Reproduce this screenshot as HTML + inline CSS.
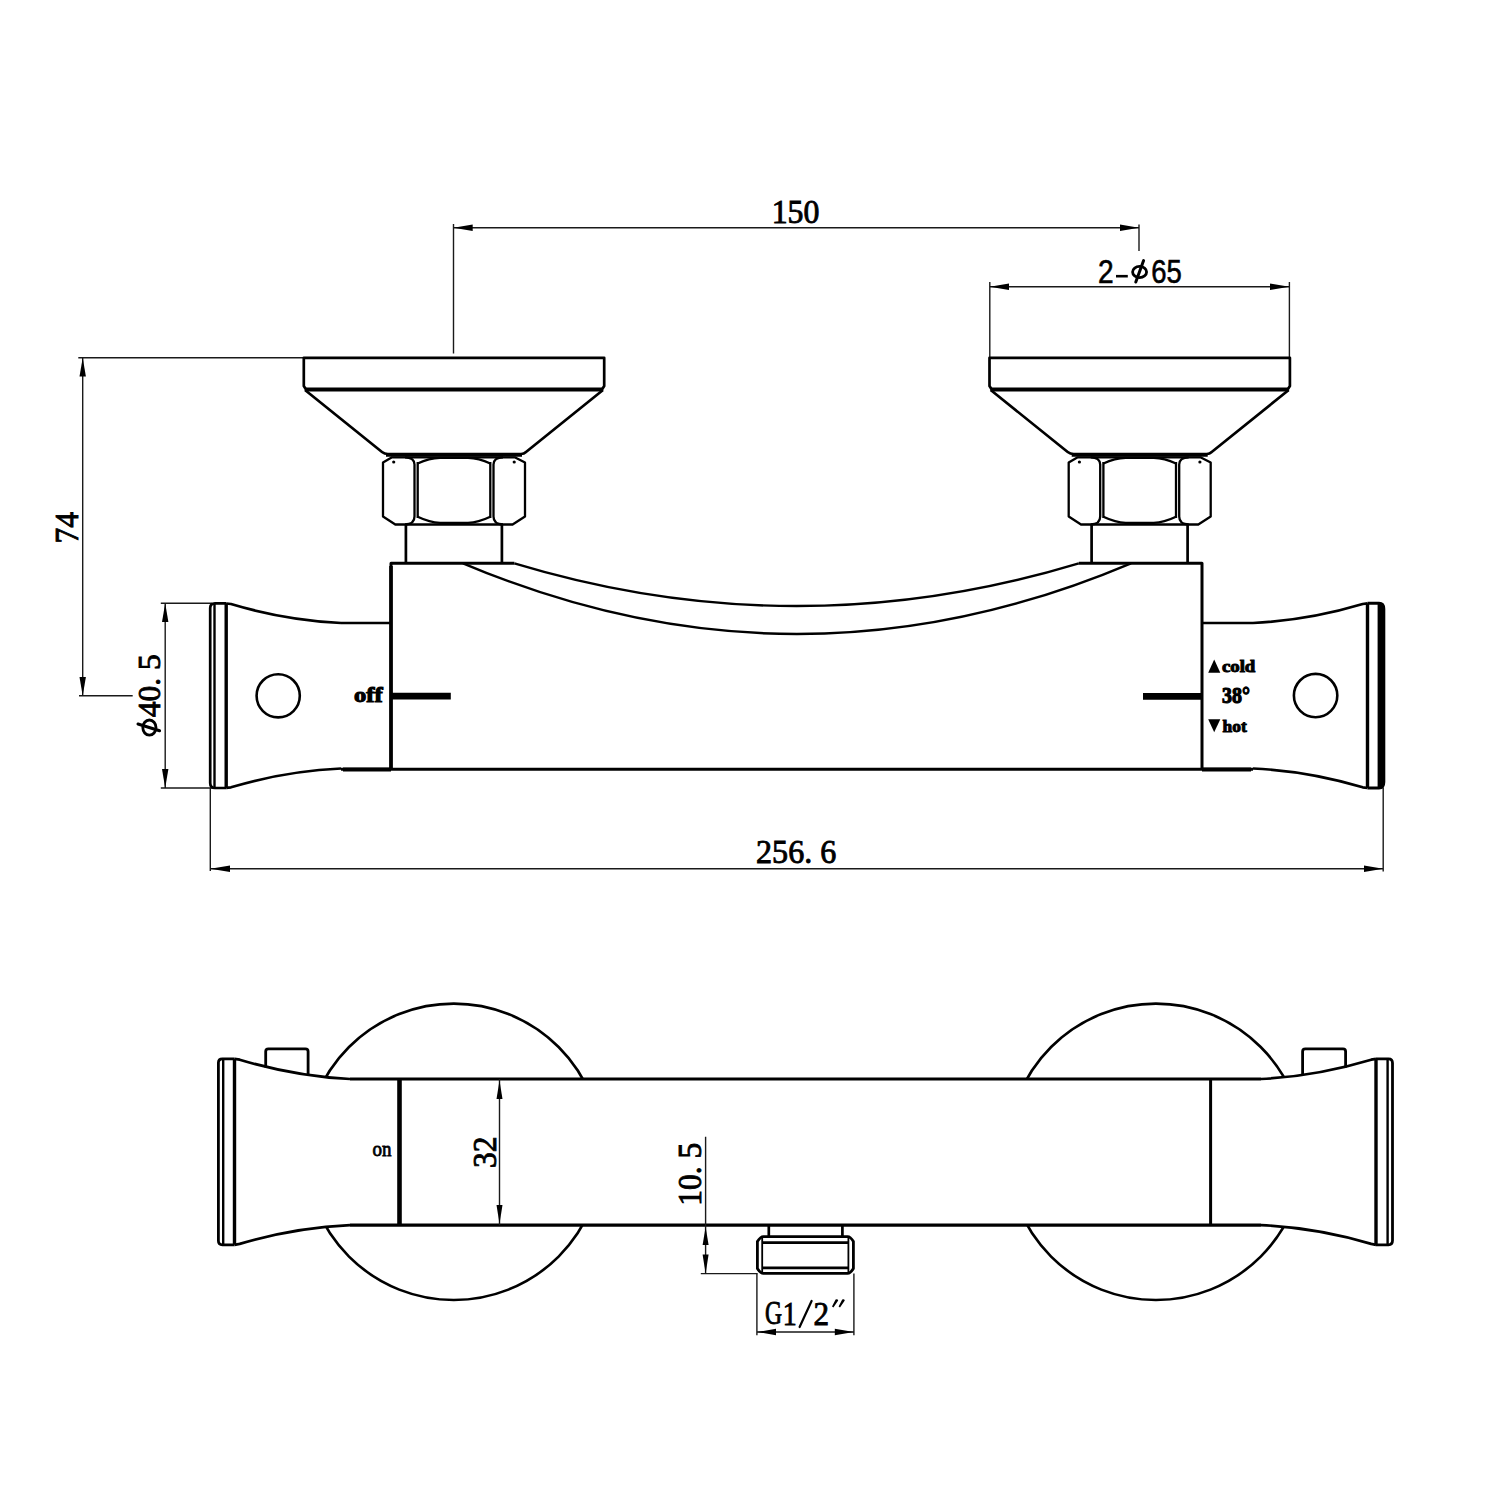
<!DOCTYPE html>
<html><head><meta charset="utf-8">
<style>
html,body{margin:0;padding:0;background:#fff;width:1500px;height:1500px;overflow:hidden}
svg{display:block}
.d{fill:none;stroke:#1a1a1a;stroke-width:1.4}
.o{fill:none;stroke:#000;stroke-width:2.7;stroke-linejoin:round}
.t{fill:none;stroke:#000;stroke-width:3.4}
.a{fill:#000;stroke:none}
.ser{font-family:"Liberation Serif",serif;fill:#000}
.san{font-family:"Liberation Sans",sans-serif;fill:#000}
</style></head>
<body>
<svg width="1500" height="1500" viewBox="0 0 1500 1500">
<rect width="1500" height="1500" fill="#fff"/>

<!-- ===== TOP VIEW ===== -->
<!-- dim 150 -->
<path class="d" d="M453.5,224 V353.5 M453.5,227.7 H1139 M1139,224.5 V251"/>
<polygon class="a" points="453.5,227.7 472.7,224.5 472.7,231"/>
<polygon class="a" points="1139,227.7 1120,224.5 1120,231"/>

<!-- dim 2-phi65 -->
<path class="d" d="M989.8,282 V357 M1289.4,282 V357 M989.8,286.8 H1289.4"/>
<polygon class="a" points="989.8,286.8 1009,283.6 1009,290"/>
<polygon class="a" points="1289.4,286.8 1270,283.6 1270,290"/>

<!-- dim 74 -->
<path class="d" d="M78.3,357.7 H303 M82.7,357.7 V695.8 M79,695.8 H132.7"/>
<polygon class="a" points="82.7,357.7 79.5,376.5 85.9,376.5"/>
<polygon class="a" points="82.7,695.8 79.5,677 85.9,677"/>

<!-- dim phi40.5 -->
<path class="d" d="M160.8,603.3 H212 M160.8,788 H212 M165.2,603.3 V788"/>
<polygon class="a" points="165.2,603.3 162,622 168.4,622"/>
<polygon class="a" points="165.2,788 162,769 168.4,769"/>

<!-- dim 256.6 -->
<path class="d" d="M210.3,788 V871 M1383.2,788 V871.6 M210.3,868.7 H1383.2"/>
<polygon class="a" points="210.3,868.7 230,865.5 230,871.9"/>
<polygon class="a" points="1383.2,868.7 1364,865.5 1364,871.9"/>

<!-- flange + nut group (left) -->
<g id="fl">
<path class="o" d="M306,389.4 L303.8,386 V357.8 H604.2 V386 L602,389.4"/>
<path class="t" style="stroke-width:4" d="M305,389.4 H603"/>
<path class="o" d="M305,390 L382,452 Q384.5,454 388,454 H521 Q524,454 526,452 L603,390"/>
<path class="t" d="M386,455 H522"/>
<path class="o" style="stroke-width:2.3" d="M392,457.3 L383,462.6 V516.5 L395.3,524.5 H512.6 L525,516.5 V462.6 L514.7,457.3 Z"/>
<path class="o" style="stroke-width:2.3" d="M405,457.3 Q414.5,457.5 414.5,464.5 V516.5 Q414.5,524.3 405,524.5 M417.7,462 V518 M490.3,462 V518 M503,457.3 Q493.5,457.5 493.5,464.5 V516.5 Q493.5,524.3 503,524.5"/>
<path class="o" style="stroke-width:2.3" d="M417.7,463.5 C424,460.5 431,458 440,457.8 H468 C477,458 484,460.5 490.3,463.5 M417.7,516.8 C424,519.8 431,522.6 440,522.8 H468 C477,522.6 484,519.8 490.3,516.8"/>
<circle class="a" cx="393.7" cy="462" r="1.6"/>
<circle class="a" cx="514.2" cy="462" r="1.6"/>
<path class="o" d="M405.9,524.5 V563.3 M501.9,524.5 V563.3"/>
</g>
<use href="#fl" transform="translate(685.7,0)"/>

<!-- body -->
<path class="o" style="stroke-width:3" d="M391,769 V563.3 H514.4 M1078.8,563.3 H1202 V769"/><path class="o" style="stroke-width:3.6" d="M391,566 V769"/>
<path class="o" style="stroke-width:3" d="M341,769.2 H1253"/><path class="o" style="stroke-width:4" d="M343,769.4 H391 M1202,769.4 H1251"/>
<path class="o" d="M341,623 H391 M1202,623 H1253"/>
<path class="o" style="stroke-width:2.4" d="M514.4,563.3 Q796.6,648.7 1078.8,563.3 M463,563.3 Q797,704.7 1131,563.3"/>

<!-- left end cap -->
<path class="o" d="M215,603.3 H226.2 M210.2,608 Q210.2,603.3 215,603.3 M210.2,608 V783 Q210.2,788 215,788 H226.2"/>
<path class="o" style="stroke-width:2.4" d="M214.5,603.3 V788"/>
<path class="t" d="M226.2,603.3 V788"/>
<path class="o" d="M226.2,603.5 L231,604 C268,615.1 304,621.15 341,623 M226.2,787.8 L231,787.3 C268,776.2 304,770.15 341,768.5"/>

<!-- right end cap -->
<path class="o" d="M1253,623 C1290,621.15 1325.7,615.1 1362.7,604 L1367.5,603.3 M1253,768.5 C1290,770.15 1325.7,776.2 1362.7,787.3 L1367.5,788"/>
<path class="t" d="M1367.5,603.3 V788"/>
<path class="a" d="M1367.5,601.8 H1379 Q1385.3,601.8 1385.3,609 V782 Q1385.3,789.5 1379,789.5 H1367.5 V786.5 H1377.6 V604.8 H1367.5 Z"/>

<!-- holes -->
<circle class="o" style="stroke-width:2.6" cx="278.2" cy="695.8" r="21.6"/>
<circle class="o" style="stroke-width:2.6" cx="1315.6" cy="695.6" r="21.7"/>

<!-- marks -->
<path class="o" style="stroke-width:6.8;stroke-linecap:butt" d="M390,696.2 H450.8 M1143,696.4 H1202"/>

<!-- ===== BOTTOM VIEW ===== -->
<circle class="o" style="stroke-width:2.6" cx="453.8" cy="1151.8" r="148.2"/>
<circle class="o" style="stroke-width:2.6" cx="1155.9" cy="1151.8" r="148.2"/>
<!-- body white fill -->
<path fill="#fff" stroke="none" d="M234.5,1058.8 L239.7,1059.7 C276.7,1070.8 313,1077.2 350,1079 H1261 C1297.9,1077.2 1334.2,1070.8 1371.2,1059.7 L1376,1058.8 V1244.8 L1371.2,1243.9 C1334.2,1232.8 1297.9,1226.8 1261,1225.1 H350 C313,1226.8 276.7,1232.8 239.7,1243.9 L234.5,1244.8 Z"/>
<!-- small tabs -->
<path class="o" style="stroke-width:2.8" d="M265.7,1067.5 V1051.5 Q265.7,1048.8 268.4,1048.8 H305.4 Q308.1,1048.8 308.1,1051.5 V1075"/>
<path class="o" style="stroke-width:2.8" d="M1302.6,1075 V1051.5 Q1302.6,1048.8 1305.3,1048.8 H1343 Q1345.6,1048.8 1345.6,1051.5 V1067.5"/>
<!-- flares -->
<path class="o" d="M234.5,1058.8 L239.7,1059.7 C276.7,1070.8 313,1077.2 350,1079 M234.5,1244.8 L239.7,1243.9 C276.7,1232.8 313,1226.8 350,1225.1"/>
<path class="o" d="M1376,1058.8 L1371.2,1059.7 C1334.2,1070.8 1297.9,1077.2 1261,1079 M1376,1244.8 L1371.2,1243.9 C1334.2,1232.8 1297.9,1226.8 1261,1225.1"/>
<!-- body lines -->
<path class="o" style="stroke-width:2.8" d="M350,1079 H1261"/>
<path class="o" style="stroke-width:3.2" d="M350,1225.1 H1261"/>
<path class="t" style="stroke-width:4.6" d="M399.5,1079 V1225.2"/>
<path class="o" style="stroke-width:3" d="M1210.6,1079 V1225.2"/>
<!-- caps -->
<path class="o" style="stroke-width:2.8" d="M222.4,1058.8 H234.5 M218.4,1062.8 Q218.4,1058.8 222.4,1058.8 M218.4,1062.8 V1240.8 Q218.4,1244.8 222.4,1244.8 H234.5"/>
<path class="o" style="stroke-width:2.4" d="M223.2,1058.8 V1244.8"/>
<path class="t" d="M234.5,1058.8 V1244.8"/>
<path class="o" style="stroke-width:2.8" d="M1376,1058.8 H1388.5 Q1392.5,1058.8 1392.5,1063 V1240.6 Q1392.5,1244.8 1388.5,1244.8 H1376"/>
<path class="o" style="stroke-width:2.4" d="M1387.6,1058.8 V1244.8"/>
<path class="t" d="M1376,1058.8 V1244.8"/>

<!-- dim 32 -->
<path class="d" d="M499.5,1079 V1225.2"/>
<polygon class="a" points="499.5,1080.5 496.5,1099 502.5,1099"/>
<polygon class="a" points="499.5,1223.7 496.5,1205 502.5,1205"/>

<!-- dim 10.5 -->
<path class="d" d="M705.6,1136.8 V1273.6 M700.8,1273.6 H757.6"/>
<polygon class="a" points="705.6,1227 702.6,1245 708.6,1245"/>
<polygon class="a" points="705.6,1273.6 702.6,1254.4 708.6,1254.4"/>

<!-- outlet -->
<path class="o" d="M768.8,1225.2 V1236.8 M842.4,1225.2 V1236.8"/>
<path class="o" style="stroke-width:2.8" d="M763.4,1236.6 H847.6 Q850.5,1236.6 853.4,1241.5 V1268.5 Q850.5,1273.4 847.6,1273.4 H763.4 Q760.4,1273.4 757.4,1268.5 V1241.5 Q760.4,1236.6 763.4,1236.6 Z"/>
<path class="o" style="stroke-width:2.7" d="M762.2,1242.6 H848.4 M762.2,1267.8 H848.4"/><path class="o" style="stroke-width:1.8" d="M762.2,1238 V1272.5 M848.4,1238 V1272.5"/>

<!-- dim G1/2 -->
<path class="d" d="M756.9,1273.6 V1335.2 M853.9,1273.6 V1335.2 M756.9,1332 H853.9"/>
<polygon class="a" points="756.9,1332 776,1328.8 776,1335.2"/>
<polygon class="a" points="853.9,1332 834.8,1328.8 834.8,1335.2"/>

<text font-family="Liberation Serif" font-weight="normal" font-size="34" stroke="#000" stroke-width="0.9" fill="#000" transform="translate(771.66,222.87) scale(0.936,0.977)">150</text>
<text font-family="Liberation Sans" font-weight="normal" font-size="32" stroke="#000" stroke-width="0.6" fill="#000" transform="translate(1097.90,282.75) scale(0.879,1.019)">2</text>
<text font-family="Liberation Sans" font-weight="normal" font-size="32" stroke="#000" stroke-width="0.6" fill="#000" transform="translate(1151.32,282.69) scale(0.860,1.011)">65</text>
<text font-family="Liberation Serif" font-weight="normal" font-size="34" stroke="#000" stroke-width="0.9" fill="#000" transform="translate(77.91,543.42) rotate(-90) scale(0.925,0.988)">74</text>
<text font-family="Liberation Serif" font-weight="normal" font-size="34" stroke="#000" stroke-width="0.9" fill="#000" transform="translate(159.87,717.23) rotate(-90) scale(0.927,0.951)">40. 5</text>
<text font-family="Liberation Serif" font-weight="normal" font-size="34" stroke="#000" stroke-width="0.9" fill="#000" transform="translate(756.06,863.45) scale(0.944,0.976)">256. 6</text>
<text font-family="Liberation Serif" font-weight="bold" font-size="21" stroke="#000" stroke-width="1.1" fill="#000" transform="translate(354.11,701.69) scale(1.168,0.950)">off</text>
<text font-family="Liberation Serif" font-weight="bold" font-size="19" stroke="#000" stroke-width="1.1" fill="#000" transform="translate(1221.88,672.11) scale(0.991,0.917)">cold</text>
<text font-family="Liberation Serif" font-weight="bold" font-size="21" stroke="#000" stroke-width="1.1" fill="#000" transform="translate(1221.96,702.99) scale(0.950,1.075)">38°</text>
<text font-family="Liberation Serif" font-weight="bold" font-size="19" stroke="#000" stroke-width="1.1" fill="#000" transform="translate(1222.61,731.64) scale(0.915,0.883)">hot</text>
<text font-family="Liberation Serif" font-weight="normal" font-size="18" stroke="#000" stroke-width="0.7" fill="#000" transform="translate(372.40,1156.23) scale(1.054,1.141)">on</text>
<text font-family="Liberation Serif" font-weight="normal" font-size="34" stroke="#000" stroke-width="0.9" fill="#000" transform="translate(495.56,1167.95) rotate(-90) scale(0.930,0.981)">32</text>
<text font-family="Liberation Serif" font-weight="normal" font-size="34" stroke="#000" stroke-width="0.9" fill="#000" transform="translate(700.65,1205.82) rotate(-90) scale(0.928,0.972)">10. 5</text>
<text font-family="Liberation Serif" font-weight="normal" font-size="34" stroke="#000" stroke-width="0.9" fill="#000" transform="translate(765.00,1324.27) scale(0.696,0.968)">G</text>
<text font-family="Liberation Serif" font-weight="normal" font-size="34" stroke="#000" stroke-width="0.9" fill="#000" transform="translate(782.64,1324.51) scale(0.823,0.984)">1</text>
<text font-family="Liberation Serif" font-weight="normal" font-size="34" stroke="#000" stroke-width="0.9" fill="#000" transform="translate(813.38,1324.51) scale(0.916,0.979)">2</text>
<!-- custom glyphs -->
<path class="o" style="stroke-width:2.6;stroke-linecap:butt" d="M1116,276.2 H1127.8"/>
<ellipse class="o" style="stroke-width:2.8" cx="1139.6" cy="272" rx="7" ry="5.6"/>
<path class="o" style="stroke-width:3;stroke-linecap:round" d="M1135.8,282 L1143.6,260.6"/>
<ellipse class="o" style="stroke-width:2.8" cx="149.4" cy="727.6" rx="6.6" ry="7.6"/>
<path class="o" style="stroke-width:3;stroke-linecap:round" d="M138,724 L159.6,730.8"/>
<path class="o" style="stroke-width:2.2;stroke-linecap:round" d="M799.6,1327 L811.6,1301"/>
<path class="a" d="M832,1306.5 L835.6,1299.6 Q837.6,1298.6 838.2,1300.4 L833.4,1307.4 Z M838.6,1306.5 L842.2,1299.6 Q844.2,1298.6 844.8,1300.4 L840,1307.4 Z"/>
<polygon class="a" points="1214.2,659.5 1208.2,672.8 1220.3,672.8"/>
<polygon class="a" points="1214.2,732.3 1208.2,719.3 1220.3,719.3"/>

</svg>
</body></html>
